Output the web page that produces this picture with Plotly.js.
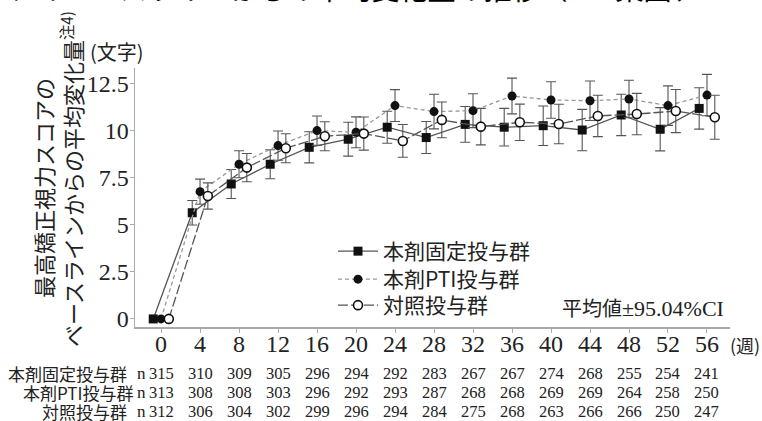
<!DOCTYPE html>
<html>
<head>
<meta charset="utf-8">
<script src="https://cdn.plot.ly/plotly-3.0.1.min.js"></script>
<style>
  html, body { margin: 0; padding: 0; background: #fff; }
  #chart { width: 762px; height: 421px; }
</style>
</head>
<body>
<div id="chart"></div>
<script>
// 週（投与後経過週数）
const weeks = [0, 4, 8, 12, 16, 20, 24, 28, 32, 36, 40, 44, 48, 52, 56];

// 平均変化量（文字）と95.04%CIの半幅
const fixedMean = [0, 5.65, 7.18, 8.23, 9.13, 9.56, 10.2, 9.65, 10.35, 10.2, 10.28, 10.05, 10.85, 10.09, 11.2];
const fixedCI   = [0, 0.65, 0.77, 0.77, 0.83, 0.9, 0.85, 0.85, 0.95, 1.0, 1.05, 1.1, 1.1, 1.15, 1.1];
const ptiMean   = [0, 6.77, 8.23, 9.22, 10.02, 9.93, 11.35, 11.03, 11.08, 11.86, 11.65, 11.61, 11.7, 11.35, 11.91];
const ptiCI     = [0, 0.67, 0.72, 0.78, 0.78, 0.82, 0.85, 0.92, 0.9, 0.95, 0.97, 1.05, 1.0, 1.05, 1.1];
const ctrlMean  = [0, 6.54, 8.05, 9.08, 9.72, 9.86, 9.47, 10.59, 10.23, 10.46, 10.37, 10.8, 10.9, 11.06, 10.73];
const ctrlCI    = [0, 0.7, 0.75, 0.77, 0.77, 0.88, 0.87, 0.95, 0.97, 0.97, 1.05, 1.1, 1.1, 1.15, 1.17];

// 各時点の症例数
const nFixed = [315, 310, 309, 305, 296, 294, 292, 283, 267, 267, 274, 268, 255, 254, 241];
const nPti   = [313, 308, 308, 303, 296, 292, 293, 287, 268, 268, 269, 269, 264, 258, 250];
const nCtrl  = [312, 306, 304, 302, 299, 296, 294, 284, 275, 268, 263, 266, 266, 250, 247];

const groupNames = ['本剤固定投与群', '本剤PTI投与群', '対照投与群'];
const yTicks = [0, 2.5, 5, 7.5, 10, 12.5];

// レイアウト寸法（px）
const W = 762, H = 421;
const M = { l: 135, r: 32, t: 68, b: 94 };
const PW = W - M.l - M.r, PH = H - M.t - M.b;
const px = x => (x - M.l) / PW;
const py = y => (H - M.b - y) / PH;

const SERIF = 'Liberation Serif, Noto Sans CJK JP, serif';
const JP = 'Noto Sans CJK JP, sans-serif';

// 群ごとに横へ少しずらして重なりを避ける
const shift = (arr, d) => arr.map(w => w + d);
const bars = arr => arr.map(v => (v ? v : NaN));

function group(name, legendId, xs, ys, ci, marker, line) {
  return {
    type: 'scatter', mode: 'lines+markers', name: name, legend: legendId,
    x: xs, y: ys,
    error_y: { type: 'data', array: bars(ci), visible: true, color: '#555', thickness: 1.1, width: 5 },
    marker: marker, line: line, cliponaxis: false
  };
}

const traces = [
  group(groupNames[0], 'legend', shift(weeks, -0.8), fixedMean, fixedCI,
    { symbol: 'square', size: 9, color: '#111' },
    { color: '#555', width: 1.3, dash: 'solid' }),
  group(groupNames[1], 'legend2', weeks, ptiMean, ptiCI,
    { symbol: 'circle', size: 9, color: '#111' },
    { color: '#999', width: 1.3, dash: '4px,3px' }),
  group(groupNames[2], 'legend3', shift(weeks, 0.8), ctrlMean, ctrlCI,
    { symbol: 'circle', size: 9, color: '#fff', line: { color: '#111', width: 1.6 } },
    { color: '#555', width: 1.3, dash: '10px,3px' })
];

const ann = [];

// 症例数の表
const rows = [nFixed, nPti, nCtrl];
const rowY = [373, 392, 411];
rows.forEach((ns, r) => {
  ann.push({ xref: 'paper', yref: 'paper', x: px(r === 1 ? 135 : 129), y: py(rowY[r]),
    xanchor: 'right', yanchor: 'middle', showarrow: false, text: groupNames[r],
    font: { family: JP, size: 17, color: '#222' } });
  ann.push({ xref: 'paper', yref: 'paper', x: px(141), y: py(rowY[r]),
    xanchor: 'center', yanchor: 'middle', showarrow: false, text: 'n',
    font: { family: SERIF, size: 17, color: '#222' } });
  ns.forEach((n, i) => {
    ann.push({ xref: 'x', yref: 'paper', x: weeks[i], y: py(rowY[r]),
      xanchor: 'center', yanchor: 'middle', showarrow: false, text: String(n),
      font: { family: SERIF, size: 16.5, color: '#222' } });
  });
});

// 単位・注記
ann.push({ xref: 'paper', yref: 'paper', x: px(745), y: py(345), xanchor: 'center', yanchor: 'middle',
  showarrow: false, text: '(週)', font: { family: JP, size: 18, color: '#222' } });
ann.push({ xref: 'paper', yref: 'paper', x: px(117), y: py(52), xanchor: 'center', yanchor: 'middle',
  showarrow: false, text: '(文字)', font: { family: JP, size: 20, color: '#222' } });
ann.push({ xref: 'paper', yref: 'paper', x: px(726), y: py(308), xanchor: 'right', yanchor: 'middle',
  showarrow: false, text: '平均値<span style="font-size:22px">±95.04%CI</span>',
  font: { family: SERIF, size: 20, color: '#222' } });

// 縦書き軸タイトル（2行）
ann.push({ xref: 'paper', yref: 'paper', x: px(43), y: py(188), xanchor: 'center', yanchor: 'middle',
  textangle: -90, showarrow: false, text: '最高矯正視力スコアの',
  font: { family: JP, size: 22, color: '#222' } });
ann.push({ xref: 'paper', yref: 'paper', x: px(71), y: py(179), xanchor: 'center', yanchor: 'middle',
  textangle: -90, showarrow: false, text: 'ベースラインからの平均変化量<sup>注4)</sup>',
  font: { family: JP, size: 22, color: '#222' } });

// 図表題（上端で切れている）
ann.push({ xref: 'paper', yref: 'paper', x: px(-217), y: py(-12), xanchor: 'left', yanchor: 'middle',
  showarrow: false, text: '最高矯正視力スコアのベースラインからの平均変化量の推移（FAS集団、TOO2試験）',
  font: { family: JP, size: 28, color: '#000' } });

// 凡例は1群ずつ配置して行間をそろえる
const legendBase = {
  x: px(333), xanchor: 'left', yanchor: 'top',
  bgcolor: 'rgba(0,0,0,0)', itemwidth: 40,
  font: { family: JP, size: 21, color: '#222' }
};

const layout = {
  width: W, height: H,
  margin: M,
  paper_bgcolor: '#fff', plot_bgcolor: '#fff',
  showlegend: true,
  legend:  Object.assign({}, legendBase, { y: py(231) }),
  legend2: Object.assign({}, legendBase, { y: py(259) }),
  legend3: Object.assign({}, legendBase, { y: py(285) }),
  xaxis: {
    range: [-2.67, 58.36], tickmode: 'array', tickvals: weeks, ticktext: weeks.map(String),
    showgrid: false, zeroline: false, showline: true, linecolor: '#aaa', linewidth: 1.5,
    ticks: 'outside', ticklen: 4, tickcolor: '#aaa', tickwidth: 1, ticklabelstandoff: -9,
    tickfont: { family: SERIF, size: 24, color: '#222' }
  },
  yaxis: {
    range: [-0.43, 13.35], tickmode: 'array', tickvals: yTicks, ticktext: yTicks.map(String),
    showgrid: false, zeroline: false, showline: true, linecolor: '#aaa', linewidth: 1.5,
    ticks: 'outside', ticklen: 4, tickcolor: '#aaa', tickwidth: 1, ticklabelstandoff: -4,
    tickfont: { family: SERIF, size: 24, color: '#222' }
  },
  annotations: ann
};

Plotly.newPlot('chart', traces, layout, { displayModeBar: false, staticPlot: true });
</script>
</body>
</html>
